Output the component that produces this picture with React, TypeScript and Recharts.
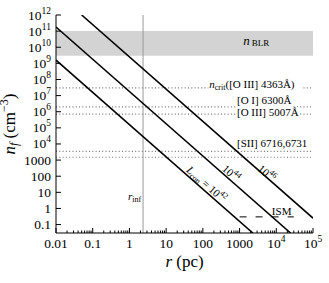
import React from 'react';
import {
  LineChart,
  Line,
  XAxis,
  YAxis,
  ReferenceArea,
  ReferenceLine,
  ReferenceDot,
} from 'recharts';

const FONT = '"Liberation Serif", "Times New Roman", serif';

// density vs radius for three luminosities, end points
const lcon42 = [
  { r: 0.01, n: 1.6e9 },
  { r: 2300, n: 0.03 },
];
const lcon44 = [
  { r: 0.01, n: 1.8e11 },
  { r: 24500, n: 0.03 },
];
const lcon46 = [
  { r: 0.05, n: 1e12 },
  { r: 1e5, n: 0.25 },
];
const ismLevel = [
  { r: 1000, n: 0.3 },
  { r: 30000, n: 0.3 },
];

const blrBand = [3e9, 1e11];
const critDensities = [3e7, 2e6, 7e5, 3.5e3, 1.5e3];
const rInf = 2.35;

const xMajor = [0.01, 0.1, 1, 10, 100, 1000, 1e4, 1e5];
const yMajor = [0.1, 1, 10, 100, 1000, 1e4, 1e5, 1e6, 1e7, 1e8, 1e9, 1e10, 1e11, 1e12];

// minor ticks 2..9 in each x decade
const xTicks: number[] = [];
xMajor.forEach((m, i) => {
  xTicks.push(m);
  if (i < xMajor.length - 1) {
    for (let k = 2; k < 10; k++) xTicks.push(+(m * k).toPrecision(3));
  }
});

const isMajor = (v: number) => {
  const l = Math.log10(v);
  return Math.abs(l - Math.round(l)) < 1e-6;
};

const TickLabel = ({ x, y, v, anchor }: any) => {
  const e = Math.round(Math.log10(v));
  return (
    <text x={x} y={y} textAnchor={anchor} fontFamily={FONT} fontSize={13.5} fill="#000">
      {e >= 4 ? (
        <>
          10
          <tspan dy={-6} fontSize={9.5}>
            {e}
          </tspan>
        </>
      ) : (
        String(v)
      )}
    </text>
  );
};

const BottomTick = ({ x, y, payload }: any) => {
  const major = isMajor(payload.value);
  return (
    <g>
      <line x1={x} x2={x} y1={y} y2={y - (major ? 5 : 2.5)} stroke="#000" />
      {major && <TickLabel x={x} y={y + 15} v={payload.value} anchor="middle" />}
    </g>
  );
};

const TopTick = ({ x, y, payload }: any) => {
  const major = isMajor(payload.value);
  return <line x1={x} x2={x} y1={y} y2={y + (major ? 5 : 2.5)} stroke="#000" />;
};

const LeftTick = ({ x, y, payload }: any) => (
  <g>
    <line x1={x} x2={x + 5} y1={y} y2={y} stroke="#000" />
    <TickLabel x={x - 5} y={y + 4.5} v={payload.value} anchor="end" />
  </g>
);

const RightTick = ({ x, y }: any) => <line x1={x} x2={x - 5} y1={y} y2={y} stroke="#000" />;

const XTitle = () => (
  <text x={184.5} y={267} textAnchor="middle" fontFamily={FONT} fontSize={17} fill="#000">
    <tspan fontStyle="italic">r</tspan> (pc)
  </text>
);

const YTitle = () => (
  <text
    x={15}
    y={124}
    transform="rotate(-90 15 124)"
    textAnchor="middle"
    fontFamily={FONT}
    fontSize={17}
    fill="#000"
  >
    <tspan fontStyle="italic">n</tspan>
    <tspan fontStyle="italic" fontSize={12} dy={3}>
      f
    </tspan>
    <tspan dy={-3}> (cm</tspan>
    <tspan fontSize={12} dy={-7}>
      −3
    </tspan>
    <tspan dy={7}>)</tspan>
  </text>
);

// annotation text; boxWidth > 0 puts a white box behind it so the dotted line is hidden
const note = (content: React.ReactNode, anchor = 'start', boxWidth = 0) => (p: any) => (
  <g>
    {boxWidth > 0 && (
      <rect x={p.cx - 1} y={p.cy - 9} width={boxWidth + 2} height={12} fill="#fff" />
    )}
    <text x={p.cx} y={p.cy} textAnchor={anchor} fontFamily={FONT} fontSize={11} fill="#000">
      {content}
    </text>
  </g>
);

const slanted = (content: React.ReactNode) => (p: any) => (
  <text
    x={p.cx}
    y={p.cy}
    dy="0.35em"
    transform={`rotate(41.3 ${p.cx} ${p.cy})`}
    textAnchor="middle"
    fontFamily={FONT}
    fontSize={11}
    fill="#000"
  >
    {content}
  </text>
);

export default function App() {
  return (
    <div style={{ position: 'absolute', left: 0, top: 0 }}>
      <LineChart width={329} height={283} margin={{ top: 15, right: 16, bottom: 20, left: 16 }}>
        <XAxis
          dataKey="r"
          type="number"
          scale="log"
          domain={[0.01, 1e5]}
          allowDataOverflow
          ticks={xTicks}
          interval={0}
          tickSize={0}
          tickMargin={0}
          tickLine={false}
          tick={<BottomTick />}
          axisLine={{ stroke: '#000' }}
          height={30}
          label={XTitle}
        />
        <XAxis
          xAxisId="top"
          orientation="top"
          type="number"
          scale="log"
          domain={[0.01, 1e5]}
          allowDataOverflow
          ticks={xTicks}
          interval={0}
          tickSize={0}
          tickMargin={0}
          tickLine={false}
          tick={<TopTick />}
          axisLine={{ stroke: '#000' }}
          height={0}
        />
        <YAxis
          type="number"
          scale="log"
          domain={[0.03, 1e12]}
          allowDataOverflow
          ticks={yMajor}
          interval={0}
          tickSize={0}
          tickMargin={0}
          tickLine={false}
          tick={<LeftTick />}
          axisLine={{ stroke: '#000' }}
          width={40}
          label={YTitle}
        />
        <YAxis
          yAxisId="right"
          orientation="right"
          type="number"
          scale="log"
          domain={[0.03, 1e12]}
          allowDataOverflow
          ticks={yMajor}
          interval={0}
          tickSize={0}
          tickMargin={0}
          tickLine={false}
          tick={<RightTick />}
          axisLine={{ stroke: '#000' }}
          width={0}
        />

        <ReferenceArea y1={blrBand[0]} y2={blrBand[1]} fill="#d3d3d3" fillOpacity={1} stroke="none" />
        {critDensities.map((d) => (
          <ReferenceLine key={d} y={d} stroke="#777" strokeWidth={1.2} strokeDasharray="1 2.3" />
        ))}
        <ReferenceLine x={rInf} stroke="#999" strokeWidth={1} />

        <Line data={lcon42} dataKey="n" stroke="#000" strokeWidth={1.6} dot={false} isAnimationActive={false} />
        <Line data={lcon44} dataKey="n" stroke="#000" strokeWidth={1.6} dot={false} isAnimationActive={false} />
        <Line data={lcon46} dataKey="n" stroke="#000" strokeWidth={1.6} dot={false} isAnimationActive={false} />
        <Line
          data={ismLevel}
          dataKey="n"
          stroke="#000"
          strokeWidth={1}
          strokeDasharray="7 9"
          dot={false}
          isAnimationActive={false}
        />

        <ReferenceDot
          x={1250}
          y={1.4e10}
          r={0}
          shape={note(
            <>
              <tspan fontStyle="italic" fontSize={13}>
                n
              </tspan>
              <tspan fontSize={9} dx={2} dy={1.5}>
                BLR
              </tspan>
            </>
          )}
        />
        <ReferenceDot
          x={150}
          y={3e7}
          r={0}
          shape={note(
            <>
              <tspan fontStyle="italic">n</tspan>
              <tspan fontSize={8} dy={2}>
                crit
              </tspan>
              <tspan dy={-2}>([O III] 4363Å)</tspan>
            </>,
            'start',
            91
          )}
        />
        <ReferenceDot x={850} y={3e6} r={0} shape={note('[O I] 6300Å', 'start', 55)} />
        <ReferenceDot x={850} y={5.4e5} r={0} shape={note('[O III] 5007Å', 'start', 60)} />
        <ReferenceDot x={850} y={6300} r={0} shape={note('[SII] 6716,6731', 'start')} />
        <ReferenceDot x={14000} y={0.38} r={0} shape={note('ISM', 'middle')} />
        <ReferenceDot
          x={rInf}
          y={3.2}
          r={0}
          shape={(p: any) =>
            note(
              <>
                <tspan fontStyle="italic">r</tspan>
                <tspan fontSize={8} dy={2}>
                  inf
                </tspan>
              </>,
              'end'
            )({ cx: p.cx - 2, cy: p.cy })
          }
        />
        <ReferenceDot
          x={126}
          y={32}
          r={0}
          shape={slanted(
            <>
              <tspan fontStyle="italic">L</tspan>
              <tspan fontSize={8} dy={2}>
                con
              </tspan>
              <tspan dy={-2}> = 10</tspan>
              <tspan fontSize={8} dy={-5}>
                42
              </tspan>
            </>
          )}
        />
        <ReferenceDot
          x={590}
          y={155}
          r={0}
          shape={slanted(
            <>
              10
              <tspan fontSize={8} dy={-5}>
                44
              </tspan>
            </>
          )}
        />
        <ReferenceDot
          x={5500}
          y={155}
          r={0}
          shape={slanted(
            <>
              10
              <tspan fontSize={8} dy={-5}>
                46
              </tspan>
            </>
          )}
        />
      </LineChart>
    </div>
  );
}
